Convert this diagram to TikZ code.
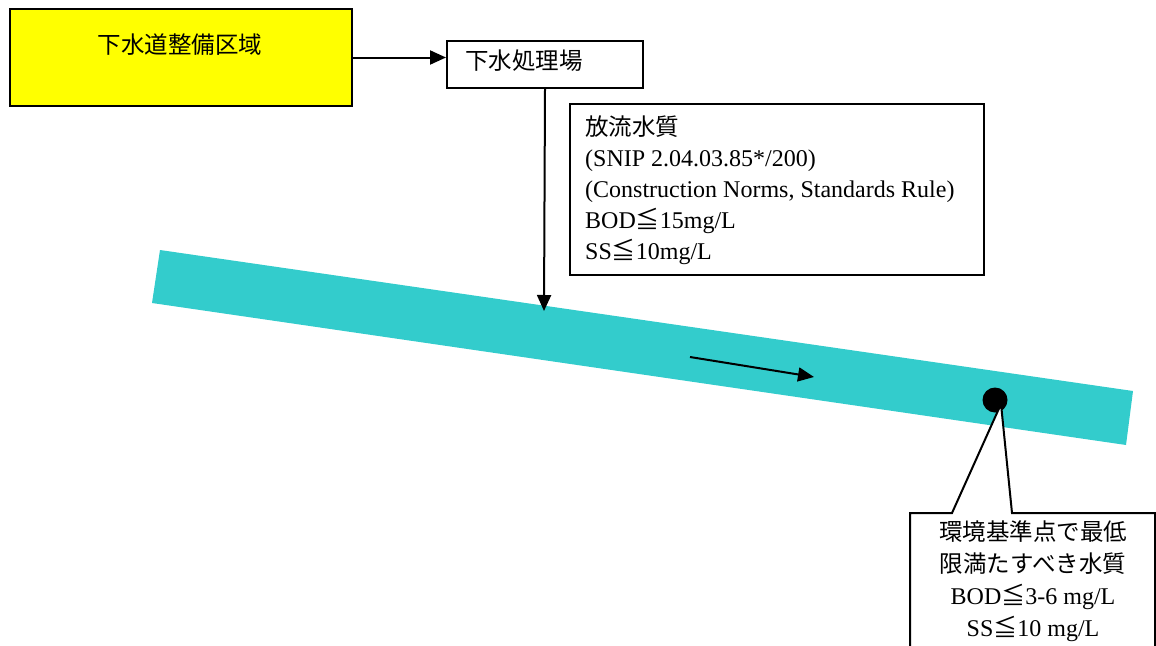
\documentclass[tikz,border=0pt]{standalone}
\usepackage{fontspec}
\setmainfont{Liberation Serif}
\newfontfamily\jp{Noto Sans CJK JP}
\usetikzlibrary{arrows.meta}
\definecolor{river}{HTML}{33CCCC}
\definecolor{areayellow}{HTML}{FFFF00}
\begin{document}
\begin{tikzpicture}[x=1pt,y=-1pt,
  box/.style={draw, line width=2pt, inner sep=0pt, anchor=north west},
  conn/.style={line width=2pt, -{Triangle[length=16pt,width=14pt]}},
  jptext/.style={font=\jp\fontsize{23.5}{28}\selectfont, inner sep=0pt},
  latin/.style={font=\fontsize{24}{31}\selectfont, inner sep=0pt}]
\useasboundingbox (0,0) rectangle (1156,645);
% river
\fill[river] (160,250) -- (1133,391) -- (1126,445) -- (152,303) -- cycle;
% sewerage area
\node[box, fill=areayellow, minimum width=342, minimum height=97] (area) at (9,8) {};
\node[jptext, anchor=center] (areatext) at (180,45) {下水道整備区域};
% treatment plant
\node[box, fill=white, minimum width=196, minimum height=47] (plant) at (446,40) {};
\node[jptext, anchor=west] (planttext) at (465,61) {下水処理場};
\draw[conn] (area.east) -- (area.east -| plant.west);
% effluent quality box
\node[box, fill=white, minimum width=414, minimum height=171] (eff) at (569,103) {};
\node[latin, anchor=west, align=left] (efftext) at (585,190)
  {{\jp\fontsize{23.5}{31}\selectfont 放流水質}\\(SNIP 2.04.03.85*/200)\\(Construction Norms, Standards Rule)\\BOD{\jp ≦}15mg/L\\SS{\jp ≦}10mg/L};
\coordinate (inflow) at (544,311);
\draw[conn] (plant.south) -- (inflow);
% flow direction
\coordinate (f1) at (690,357);
\coordinate (f2) at (814,377);
\draw[conn] (f1) -- (f2);
% monitoring point
\node[circle, fill=black, minimum size=25, inner sep=0pt] (pt) at (995,400) {};
\coordinate (tip) at (1001,404);
\draw[line width=2pt, fill=white] (910,660) -- (910,513) -- (952,513) -- (tip) -- (1012,513) -- (1155,513) -- (1155,660);
\node[latin, anchor=center, align=center, font=\fontsize{24}{32}\selectfont] (calltext) at (1033,581)
  {{\jp\fontsize{23.5}{32}\selectfont 環境基準点で最低}\\{\jp\fontsize{23.5}{32}\selectfont 限満たすべき水質}\\BOD{\jp ≦}3-6 mg/L\\SS{\jp ≦}10 mg/L};
\end{tikzpicture}
\end{document}
